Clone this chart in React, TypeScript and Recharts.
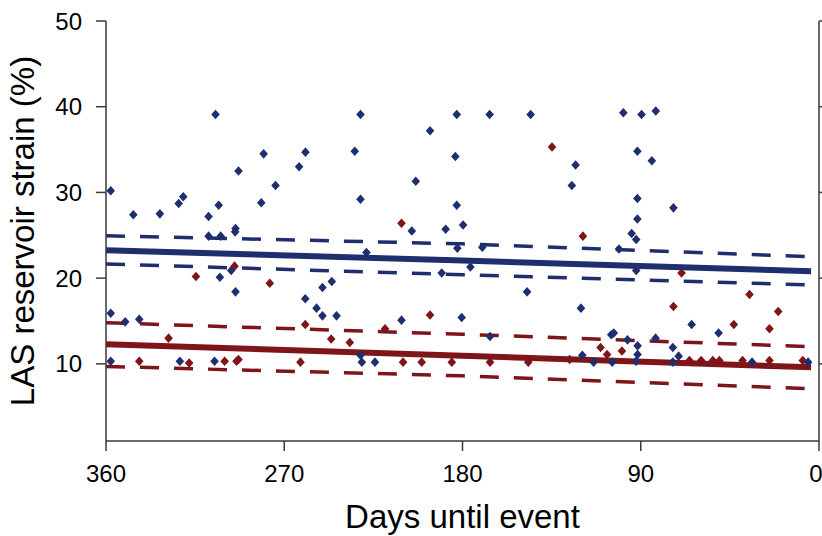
import React from 'react';
import { ComposedChart, XAxis, YAxis, Line, Scatter } from 'recharts';

// days before event (x) and LAS reservoir strain % (y)
const blueDays = [
  357.6, 304.7, 346.2, 332.8, 323.3, 321.0, 308.2, 303.1, 293.1, 280.4, 281.6, 274.4, 262.5, 259.3,
  294.8, 294.6, 308.2, 302.1, 296.8, 302.5, 294.6, 259.4, 253.7, 250.7, 250.7, 246.0, 243.6, 357.6,
  350.3, 343.2, 357.6, 322.7, 305.2, 231.5, 182.9, 166.3, 145.6, 196.4, 234.4, 183.6, 122.9, 124.8,
  203.6, 231.5, 182.9, 205.6, 188.5, 179.7, 228.5, 182.6, 170.0, 176.0, 190.5, 98.8, 89.6, 82.4,
  91.7, 84.4, 91.7, 73.5, 91.7, 94.6, 92.3, 101.0, 92.3, 147.4, 210.8, 180.4, 120.2, 166.1, 231.5,
  230.8, 224.2, 64.3, 50.7, 104.9, 103.6, 96.7, 91.6, 91.6, 92.3, 119.5, 113.8, 104.4, 82.5, 73.8,
  70.9, 73.8, 33.8, 5.5,
];
const blueStrain = [
  30.2, 39.1, 27.4, 27.5, 28.7, 29.5, 27.2, 28.5, 32.5, 34.5, 28.8, 30.8, 33.0, 34.7,
  25.4, 25.8, 24.9, 24.9, 20.9, 20.1, 18.4, 17.6, 16.5, 15.6, 18.9, 19.6, 15.6, 15.9,
  14.9, 15.2, 10.3, 10.3, 10.3, 39.1, 39.1, 39.1, 39.1, 37.2, 34.8, 34.2, 33.2, 30.8,
  31.3, 29.2, 28.5, 25.5, 25.7, 26.2, 23.0, 23.5, 23.6, 21.3, 20.6, 39.3, 39.1, 39.5,
  34.8, 33.7, 29.3, 28.2, 26.9, 25.2, 24.5, 23.4, 20.9, 18.4, 15.1, 15.4, 16.5, 13.2, 11.0,
  10.2, 10.2, 14.6, 13.6, 13.4, 13.6, 12.8, 12.1, 11.1, 10.3, 11.0, 10.2, 10.2, 13.0, 11.9,
  10.9, 10.2, 10.2, 10.2,
];
const redDays = [
  314.6, 295.1, 277.3, 328.4, 259.4, 246.3, 343.2, 318.0, 300.1, 294.1, 293.1, 261.8, 210.8, 134.8,
  119.2, 69.4, 196.4, 219.1, 236.9, 210.0, 200.6, 185.4, 166.1, 146.8, 125.9, 73.5, 35.1, 20.6,
  43.0, 25.0, 110.3, 107.0, 99.5, 65.4, 59.5, 53.6, 50.3, 38.6, 25.0, 8.2,
];
const redStrain = [
  20.2, 21.4, 19.4, 13.0, 14.6, 12.9, 10.3, 10.1, 10.3, 10.3, 10.5, 10.2, 26.4, 35.3,
  24.9, 20.6, 15.7, 14.1, 12.5, 10.2, 10.2, 10.2, 10.2, 10.2, 10.5, 16.7, 18.1, 16.1,
  14.6, 14.1, 11.9, 11.1, 11.5, 10.4, 10.4, 10.4, 10.4, 10.4, 10.4, 10.4,
];

// regression fits with confidence bands
const fitDays = [360, 180, 4];
const blueFit = [23.25, 22.05, 20.8];
const blueUpper = [24.95, 24.0, 22.5];
const blueLower = [21.65, 20.4, 19.2];
const redFit = [12.3, 10.95, 9.6];
const redUpper = [14.8, 13.45, 12.0];
const redLower = [9.7, 8.6, 7.1];

const xTicks = [360, 270, 180, 90, 0];
const yTicks = [10, 20, 30, 40, 50];

const BLUE = '#1f2e6e';
const RED = '#7e1518';
const AXIS = '#3a3a3a';

const pts = (xs: number[], ys: number[]) => xs.map((x, i) => ({ x, y: ys[i] }));

const Diamond = (color: string) => (props: any) => {
  const { cx, cy } = props;
  if (cx == null || cy == null) return <g />;
  return (
    <polygon
      points={`${cx},${cy - 4.8} ${cx + 4.3},${cy} ${cx},${cy + 4.8} ${cx - 4.3},${cy}`}
      fill={color}
    />
  );
};

const NoTick = () => <g />;

export default function App() {
  const tickStyle = { fill: '#000', fontSize: 24 };
  return (
    <div style={{ position: 'absolute', left: 0, top: 0, background: '#fff' }}>
      <ComposedChart
        width={822}
        height={536}
        margin={{ top: 21, right: 0, bottom: 0, left: 0 }}
        style={{ fontFamily: '"Liberation Sans", Arial, sans-serif' }}
      >
        <XAxis
          dataKey="x"
          type="number"
          domain={[0, 360]}
          reversed
          ticks={xTicks}
          allowDataOverflow
          height={95}
          tickSize={10}
          tickMargin={14}
          tick={tickStyle}
          axisLine={{ stroke: AXIS, strokeWidth: 1.5 }}
          tickLine={{ stroke: AXIS, strokeWidth: 1.5 }}
          label={{
            content: (p: any) => {
              const vb = p.viewBox;
              return (
                <text x={vb.x + vb.width / 2} y={528} textAnchor="middle" fontSize={33} fill="#000">
                  Days until event
                </text>
              );
            },
          }}
        />
        <XAxis
          xAxisId="top"
          orientation="top"
          dataKey="x"
          type="number"
          domain={[0, 360]}
          reversed
          ticks={xTicks}
          allowDataOverflow
          height={0}
          tickSize={10}
          tick={NoTick}
          axisLine={{ stroke: AXIS, strokeWidth: 1.5 }}
          tickLine={{ stroke: AXIS, strokeWidth: 1.5 }}
        />
        <YAxis
          dataKey="y"
          type="number"
          domain={[1, 50]}
          ticks={yTicks}
          allowDataOverflow
          width={106}
          tickSize={10}
          tickMargin={14}
          tick={tickStyle}
          axisLine={{ stroke: AXIS, strokeWidth: 1.5 }}
          tickLine={{ stroke: AXIS, strokeWidth: 1.5 }}
          label={{
            content: (p: any) => {
              const vb = p.viewBox;
              const cx = 34;
              const cy = vb.y + vb.height / 2;
              return (
                <text
                  x={cx}
                  y={cy}
                  transform={`rotate(-90 ${cx} ${cy})`}
                  textAnchor="middle"
                  fontSize={33}
                  fill="#000"
                >
                  LAS reservoir strain (%)
                </text>
              );
            },
          }}
        />
        <YAxis
          yAxisId="r"
          orientation="right"
          dataKey="y"
          type="number"
          domain={[1, 50]}
          ticks={yTicks}
          allowDataOverflow
          width={3}
          tickSize={10}
          tick={NoTick}
          axisLine={{ stroke: AXIS, strokeWidth: 1.5 }}
          tickLine={{ stroke: AXIS, strokeWidth: 1.5 }}
        />

        <Line data={pts(fitDays, blueUpper)} dataKey="y" stroke={BLUE} strokeWidth={3.5} strokeDasharray="19 15" dot={false} activeDot={false} isAnimationActive={false} />
        <Line data={pts(fitDays, blueLower)} dataKey="y" stroke={BLUE} strokeWidth={3.5} strokeDasharray="19 15" dot={false} activeDot={false} isAnimationActive={false} />
        <Line data={pts(fitDays, blueFit)} dataKey="y" stroke={BLUE} strokeWidth={6} dot={false} activeDot={false} isAnimationActive={false} />
        <Line data={pts(fitDays, redUpper)} dataKey="y" stroke={RED} strokeWidth={3.5} strokeDasharray="19 15" dot={false} activeDot={false} isAnimationActive={false} />
        <Line data={pts(fitDays, redLower)} dataKey="y" stroke={RED} strokeWidth={3.5} strokeDasharray="19 15" dot={false} activeDot={false} isAnimationActive={false} />
        <Line data={pts(fitDays, redFit)} dataKey="y" stroke={RED} strokeWidth={6} dot={false} activeDot={false} isAnimationActive={false} />

        <Scatter data={pts(redDays, redStrain)} dataKey="y" shape={Diamond(RED)} isAnimationActive={false} />
        <Scatter data={pts(blueDays, blueStrain)} dataKey="y" shape={Diamond(BLUE)} isAnimationActive={false} />
      </ComposedChart>
    </div>
  );
}
